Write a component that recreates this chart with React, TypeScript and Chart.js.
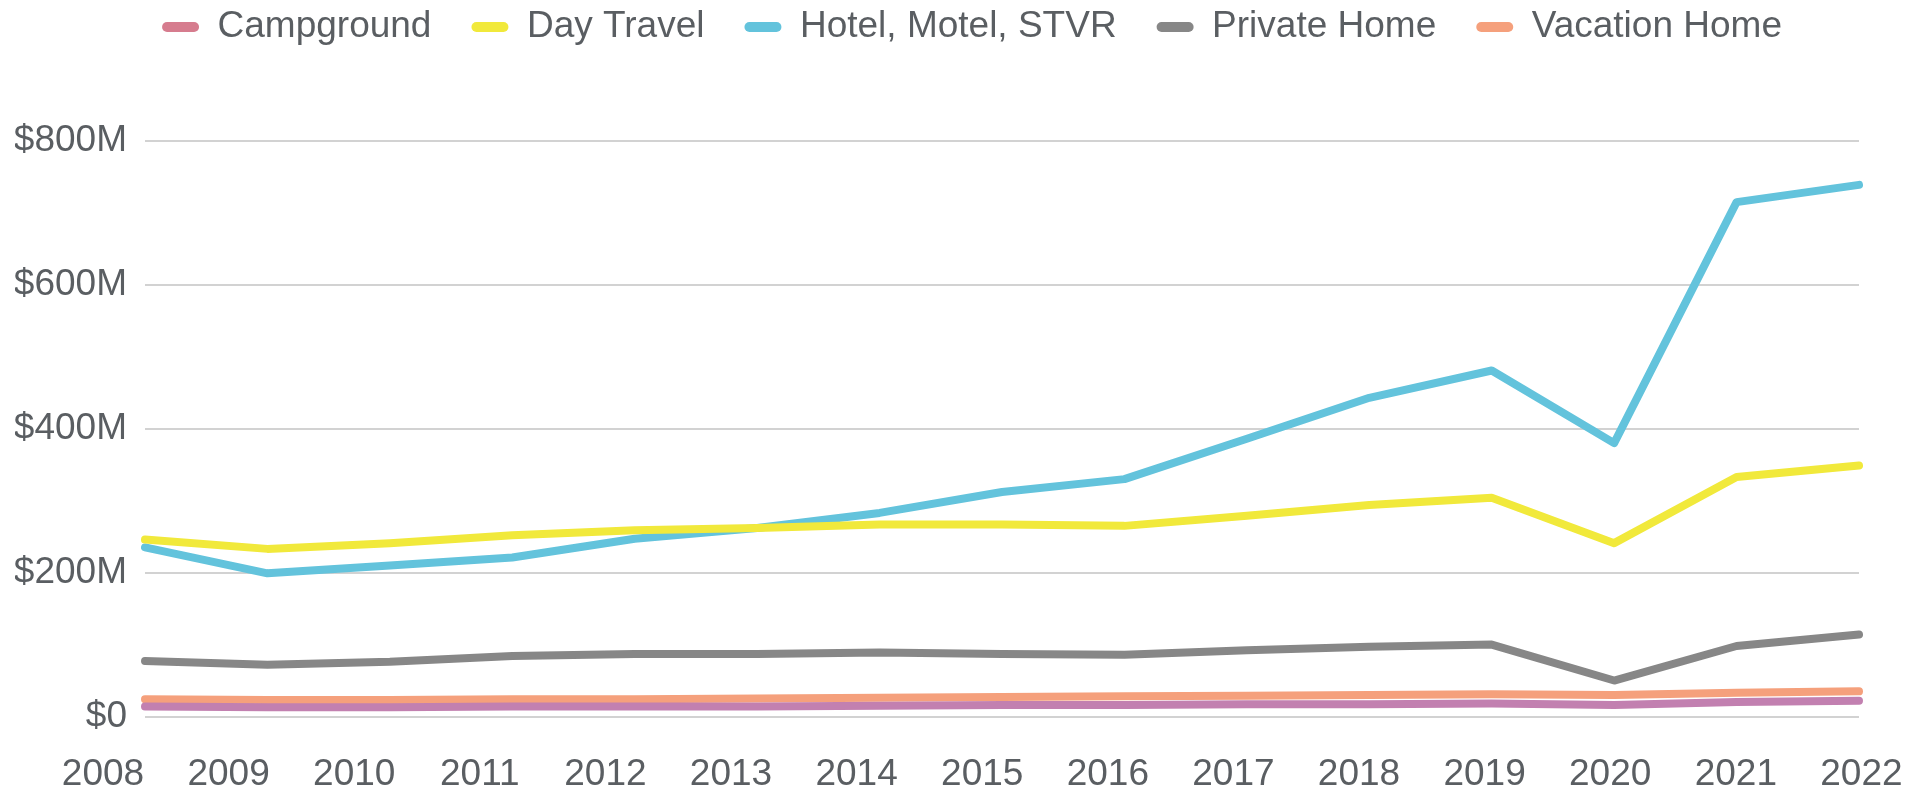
import React, { useEffect, useRef } from 'react';
import { Chart, registerables } from 'chart.js';

Chart.register(...registerables);

const years = ['2008', '2009', '2010', '2011', '2012', '2013', '2014', '2015', '2016', '2017', '2018', '2019', '2020', '2021', '2022'];

// values in $ millions
const campground = [14, 13, 13, 14, 14, 14, 15, 16, 16, 17, 17, 18, 16, 20, 22];
const dayTravel = [246, 233, 241, 252, 259, 262, 267, 267, 265, 279, 294, 304, 241, 333, 349];
const hotelMotelStvr = [235, 199, 210, 221, 247, 262, 283, 312, 330, 386, 443, 481, 380, 715, 739];
const privateHome = [77, 72, 76, 84, 87, 87, 89, 87, 86, 92, 97, 100, 50, 98, 114];
const vacationHome = [24, 23, 23, 24, 24, 25, 26, 27, 28, 29, 30, 31, 30, 33, 35];

const yTickValues = [0, 200, 400, 600, 800];

// year labels sit on a slightly wider, evenly spaced grid than the data points
const LABEL_START = -0.343;
const LABEL_STEP = 1.0259;

const FONT = 'Liberation Sans, Arial, Helvetica, sans-serif';
const TEXT = '#5a5e62';

export default function App() {
  const canvasRef = useRef<HTMLCanvasElement | null>(null);

  useEffect(() => {
    document.body.style.margin = '0';
    const canvas = canvasRef.current;
    if (!canvas) return;

    const legendSpacer = {
      id: 'legendSpacer',
      beforeInit(chart: any) {
        const legend = chart.legend;
        if (!legend) return;
        const originalFit = legend.fit;
        legend.fit = function fit() {
          originalFit.bind(legend)();
          this.height += 85.5;
        };
      },
    };

    const mk = (label: string, data: number[], line: string, legendColor: string) => ({
      label,
      data,
      borderColor: line,
      backgroundColor: legendColor,
      borderWidth: 8,
      pointRadius: 0,
      pointHoverRadius: 0,
      borderCapStyle: 'round' as const,
      borderJoinStyle: 'round' as const,
      tension: 0,
      fill: false,
    });

    const chart = new Chart(canvas, {
      type: 'line',
      data: {
        labels: years,
        datasets: [
          mk('Campground', campground, '#c280b0', '#d67c8e'),
          mk('Day Travel', dayTravel, '#f1e93b', '#f1e93b'),
          mk('Hotel, Motel, STVR', hotelMotelStvr, '#63c3dc', '#63c3dc'),
          mk('Private Home', privateHome, '#878787', '#878787'),
          mk('Vacation Home', vacationHome, '#f5a07c', '#f5a07c'),
        ],
      },
      options: {
        responsive: false,
        animation: false,
        devicePixelRatio: 1,
        layout: { padding: { top: -31.5, left: 15, right: -2, bottom: 0 } },
        plugins: {
          tooltip: { enabled: false },
          legend: {
            position: 'top',
            align: 'center',
            labels: {
              color: TEXT,
              font: { family: FONT, size: 37 },
              boxWidth: 37,
              boxHeight: 10,
              useBorderRadius: true,
              borderRadius: 5,
              padding: 40,
              generateLabels: (c: any) =>
                Chart.defaults.plugins.legend.labels.generateLabels(c).map((l: any) => ({
                  ...l,
                  lineWidth: 0,
                  strokeStyle: l.fillStyle,
                })),
            },
          },
        },
        scales: {
          x: {
            type: 'category',
            display: false,
          },
          xYears: {
            type: 'linear',
            position: 'bottom',
            min: 0,
            max: years.length - 1,
            grid: { display: false, drawTicks: false },
            border: { display: false },
            afterBuildTicks: (scale: any) => {
              scale.ticks = years.map((_, i) => ({ value: LABEL_START + i * LABEL_STEP }));
            },
            afterFit: (scale: any) => {
              scale.height = 76.5;
              scale.paddingLeft = 0;
              scale.paddingRight = 68;
              scale.paddingTop = 0;
              scale.paddingBottom = 0;
            },
            ticks: {
              autoSkip: false,
              maxRotation: 0,
              minRotation: 0,
              padding: 39.5,
              color: TEXT,
              font: { family: FONT, size: 37, lineHeight: 1 },
              callback: (_v: any, i: number) => years[i],
            },
          },
          y: {
            type: 'linear',
            min: 0,
            max: 800,
            afterBuildTicks: (scale: any) => {
              scale.ticks = yTickValues.map((v) => ({ value: v }));
            },
            afterFit: (scale: any) => {
              scale.width = 130;
              scale.paddingTop = 0;
              scale.paddingBottom = 0;
            },
            grid: { color: '#d2d2d2', lineWidth: 2, drawTicks: false },
            border: { display: false },
            ticks: {
              padding: 18,
              color: TEXT,
              font: { family: FONT, size: 37 },
              callback: (v: any) => (Number(v) === 0 ? '$0' : `$${v}M`),
            },
          },
        },
      },
      plugins: [legendSpacer],
    } as any);

    return () => chart.destroy();
  }, []);

  return (
    <div style={{ width: 1927, height: 793, position: 'relative', background: '#ffffff' }}>
      <canvas ref={canvasRef} width={1927} height={793} style={{ display: 'block' }} />
    </div>
  );
}
